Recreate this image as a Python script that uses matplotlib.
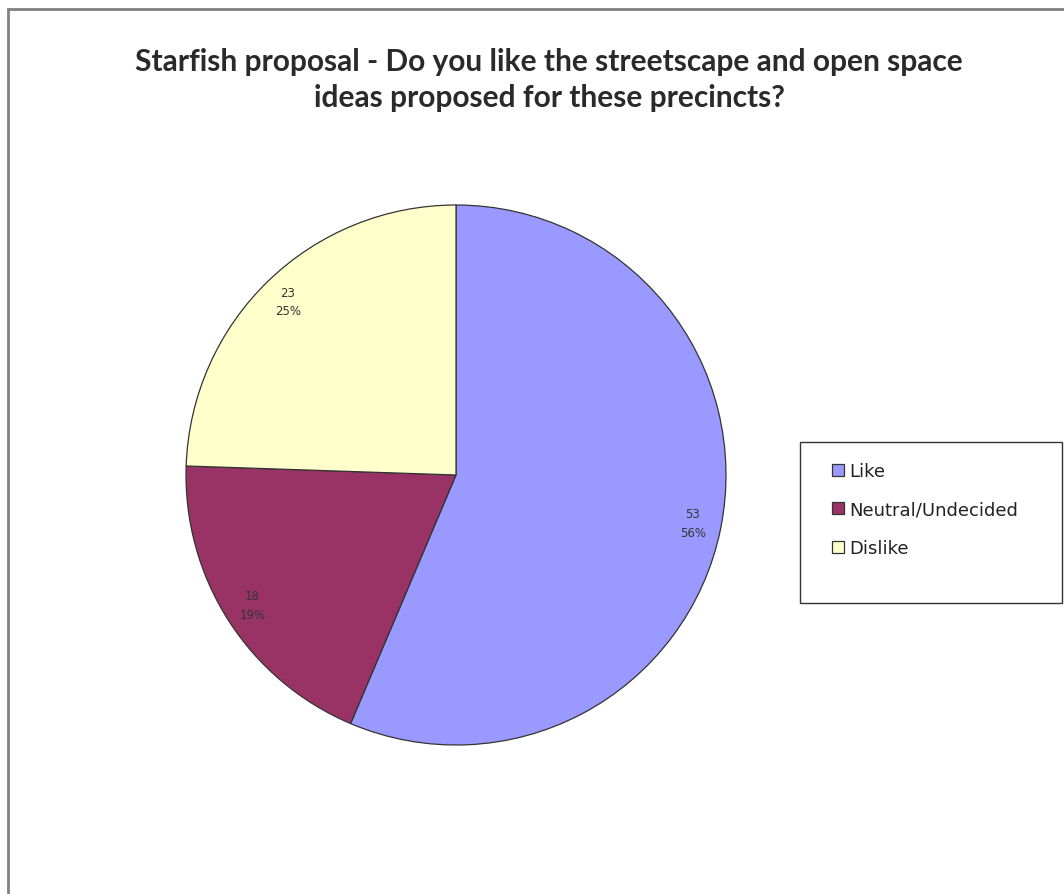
import matplotlib
matplotlib.use("Agg")
import matplotlib.pyplot as plt
from matplotlib.patches import Rectangle, Wedge
from matplotlib.legend_handler import HandlerPatch

categories = ["Like", "Neutral/Undecided", "Dislike"]
values = [53, 18, 23]
pct_labels = ["56%", "19%", "25%"]
colors = ["#9999FF", "#993366", "#FFFFCC"]
title = "Starfish proposal - Do you like the streetscape and open space\nideas proposed for these precincts?"

W, H = 1064, 895
fig = plt.figure(figsize=(W / 100, H / 100), dpi=100)
fig.patch.set_facecolor("white")

# outer chart border (extends past right/bottom edges)
fig.patches.append(Rectangle((8 / W, -0.05), 1.1, 1 - 10 / H + 0.05,
                             transform=fig.transFigure, fill=False,
                             edgecolor="#808080", linewidth=2.0))

cx, cy, r = 456, 476, 270
ax = fig.add_axes([(cx - r) / W, (H - cy - r) / H, 2 * r / W, 2 * r / H])
labels = [f"{v}\n{p}" for v, p in zip(values, pct_labels)]
wedges, texts = ax.pie(values, colors=colors, startangle=90, counterclock=False,
                       radius=1.0, labels=labels, labeldistance=0.895,
                       wedgeprops=dict(edgecolor="#333333", linewidth=0.9),
                       textprops=dict(fontsize=8.5, family="DejaVu Sans",
                                      color="#333333", ha="center", va="center",
                                      linespacing=1.55))
for t in texts:
    t.set_horizontalalignment("center")
ax.set_xlim(-1, 1)
ax.set_ylim(-1, 1)
ax.set_aspect("equal")
ax.axis("off")

fig.text(549 / W, 1 - 80 / H, title, ha="center", va="center",
         fontsize=21.5, fontweight="bold", family="Lato",
         color="#2a2a2a", linespacing=1.32)


class SquareHandler(HandlerPatch):
    def create_artists(self, legend, orig_handle, xdescent, ydescent,
                       width, height, fontsize, trans):
        s = 8.6
        p = Rectangle((width - s - xdescent, (height - s) / 2 - ydescent), s, s,
                      facecolor=orig_handle.get_facecolor(),
                      edgecolor="#333333", linewidth=0.9, transform=trans)
        return [p]


# legend frame box
fig.patches.append(Rectangle((800 / W, (H - 604) / H), 262 / W, 161 / H,
                             transform=fig.transFigure, fill=False,
                             edgecolor="#333333", linewidth=1.0))

leg = fig.legend(wedges, categories, loc="upper left",
                 bbox_to_anchor=(800 / W, (H - 443) / H),
                 frameon=False,
                 prop=dict(family="DejaVu Sans", size=13),
                 handler_map={Wedge: SquareHandler()},
                 handlelength=1.35, handleheight=0.7, handletextpad=0.3,
                 labelspacing=1.15, borderpad=1.1, borderaxespad=0)
for t in leg.get_texts():
    t.set_color("#222222")

fig.savefig("out.png", dpi=100, facecolor="white")
